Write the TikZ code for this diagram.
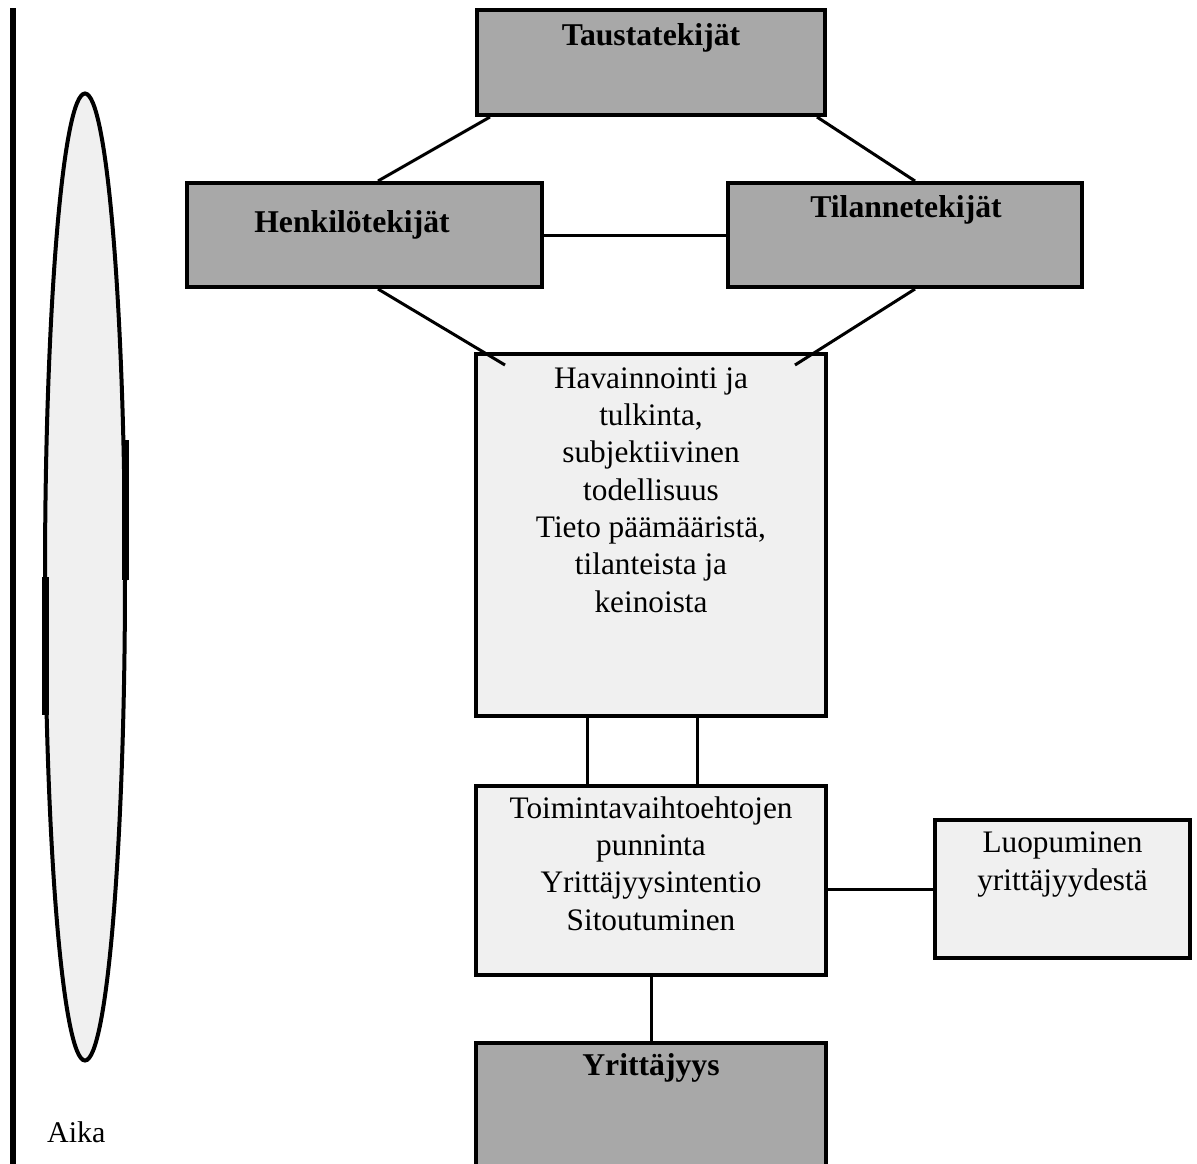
\documentclass[tikz,border=0pt]{standalone}
\usepackage{fontspec}
\setmainfont{Liberation Serif}
\usetikzlibrary{shapes.geometric}
\definecolor{darkfill}{gray}{0.66}
\definecolor{lightfill}{gray}{0.94}
\begin{document}
\begin{tikzpicture}[x=1pt,y=-1pt,
  darkbox/.style={draw, line width=4pt, fill=darkfill, rectangle, inner sep=0pt},
  lightbox/.style={draw, line width=4pt, fill=lightfill, rectangle, inner sep=0pt},
  conn/.style={line width=3pt},
  boldtxt/.style={font=\fontsize{31.7}{37}\selectfont\bfseries, inner sep=0pt, anchor=base},
  bodytxt/.style={font=\fontsize{31.3}{37.3}\selectfont, inner sep=0pt, anchor=base, align=center}]
\clip (0,0) rectangle (1197,1163);
\fill[white] (0,0) rectangle (1197,1163);

% time axis
\coordinate (axtop) at (13,8);
\coordinate (axbot) at (13,1175);
\draw[line width=6pt] (axtop) -- (axbot);
\node[ellipse, draw, line width=4pt, fill=lightfill, minimum width=80pt, minimum height=967pt, inner sep=0pt] (time) at (85,577) {};
\fill[black] (122,440) rectangle (129,580);
\fill[black] (42,577) rectangle (49,715);
\node[font=\fontsize{30}{36}\selectfont, inner sep=0pt, anchor=base west] (aika) at (47,1142) {Aika};

% boxes
\node[darkbox, minimum width=348pt, minimum height=105pt] (taus) at (651,62.5) {};
\node[darkbox, minimum width=355pt, minimum height=104pt] (henk) at (364.5,235) {};
\node[darkbox, minimum width=354pt, minimum height=104pt] (tila) at (905,235) {};
\node[lightbox, minimum width=350pt, minimum height=362pt] (hav) at (651,535) {};
\node[lightbox, minimum width=350pt, minimum height=189pt] (toim) at (651,880.5) {};
\node[lightbox, minimum width=255pt, minimum height=138pt] (luop) at (1062.5,889) {};
\node[darkbox, minimum width=350pt, minimum height=140pt] (yrit) at (651,1113) {};

% texts (base = baseline of the last line)
\node[boldtxt] (tausT) at (651,45) {Taustatekijät};
\node[boldtxt] (henkT) at (352,232) {Henkilötekijät};
\node[boldtxt] (tilaT) at (906,217) {Tilannetekijät};
\node[boldtxt] (yritT) at (651,1075) {Yrittäjyys};
\node[bodytxt] (havT) at (651,612) {Havainnointi ja\\tulkinta,\\subjektiivinen\\todellisuus\\Tieto päämääristä,\\tilanteista ja\\keinoista};
\node[bodytxt] (toimT) at (651,930) {Toimintavaihtoehtojen\\punninta\\Yrittäjyysintentio\\Sitoutuminen};
\node[bodytxt] (luopT) at (1062.5,890) {Luopuminen\\yrittäjyydestä};

% connectors
\draw[conn] ([xshift=15pt]taus.south west) -- ([xshift=193pt]henk.north west);
\draw[conn] ([xshift=-10pt]taus.south east) -- ([xshift=189pt]tila.north west);
\draw[conn] (henk.east) -- (tila.west);
\draw[conn] ([xshift=193pt]henk.south west) -- ([xshift=31pt,yshift=-13pt]hav.north west);
\draw[conn] ([xshift=189pt]tila.south west) -- ([xshift=-33pt,yshift=-13pt]hav.north east);
\draw[conn] ([xshift=-64pt]hav.south) -- ([xshift=-64pt]toim.north);
\draw[conn] ([xshift=46pt]hav.south) -- ([xshift=46pt]toim.north);
\draw[conn] (luop.west -| toim.east) -- (luop.west);
\draw[conn] (toim.south) -- (yrit.north);
\end{tikzpicture}
\end{document}
